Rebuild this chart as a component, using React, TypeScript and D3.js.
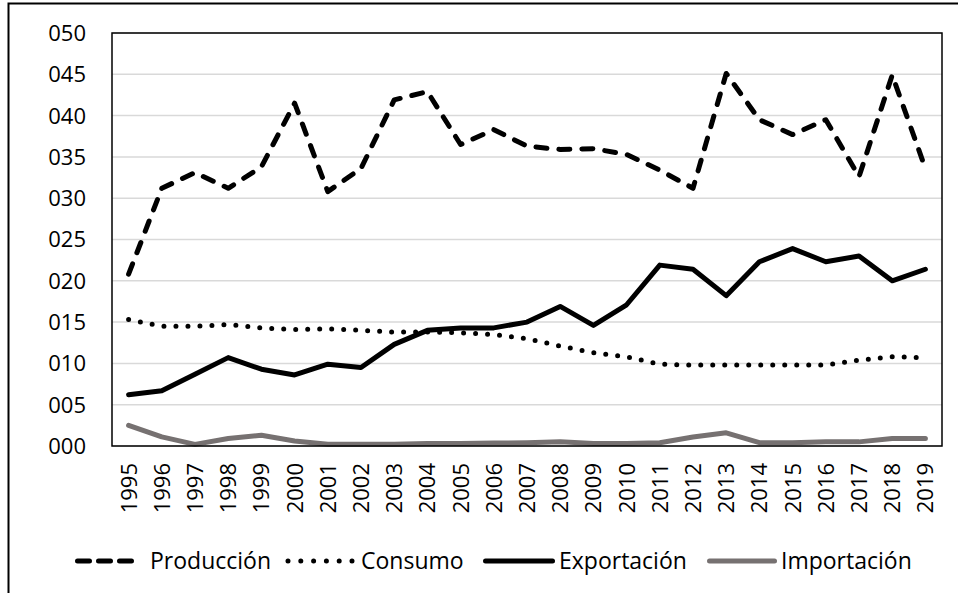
import * as d3 from 'd3';
import { type FC, useEffect, useRef } from 'react';

const years = [
  '1995', '1996', '1997', '1998', '1999', '2000', '2001', '2002', '2003',
  '2004', '2005', '2006', '2007', '2008', '2009', '2010', '2011', '2012',
  '2013', '2014', '2015', '2016', '2017', '2018', '2019',
];

const produccion = [
  20.8, 31.2, 33.1, 31.2, 33.8, 41.5, 30.8, 33.6, 41.9, 42.9, 36.5, 38.3,
  36.3, 35.9, 36.0, 35.3, 33.4, 31.2, 45.1, 39.5, 37.7, 39.5, 32.6, 44.9,
  33.6,
];

const consumo = [
  15.3, 14.5, 14.5, 14.7, 14.3, 14.1, 14.2, 14.0, 13.8, 13.8, 13.7, 13.5,
  13.0, 12.1, 11.3, 10.8, 9.9, 9.8, 9.8, 9.8, 9.8, 9.8, 10.4, 10.8, 10.7,
];

const exportacion = [
  6.2, 6.7, 8.7, 10.7, 9.3, 8.6, 9.9, 9.5, 12.3, 14.0, 14.3, 14.3, 15.0,
  16.9, 14.6, 17.1, 21.9, 21.4, 18.2, 22.3, 23.9, 22.3, 23.0, 20.0, 21.4,
];

const importacion = [
  2.5, 1.1, 0.2, 0.9, 1.3, 0.6, 0.2, 0.2, 0.2, 0.3, 0.3, 0.35, 0.4, 0.5,
  0.3, 0.3, 0.4, 1.1, 1.6, 0.4, 0.4, 0.5, 0.5, 0.9, 0.9,
];

const yTicks = [0, 5, 10, 15, 20, 25, 30, 35, 40, 45, 50];

interface Serie {
  name: string;
  values: number[];
  color: string;
  dash: string | null;
  legendDash: string | null;
  width: number;
}

const series: Serie[] = [
  { name: 'Producción', values: produccion, color: '#000000', dash: '11 12', legendDash: '12 9', width: 5 },
  { name: 'Consumo', values: consumo, color: '#000000', dash: '0 12', legendDash: '0 12.8', width: 5 },
  { name: 'Exportación', values: exportacion, color: '#000000', dash: null, legendDash: null, width: 5 },
  { name: 'Importación', values: importacion, color: '#767171', dash: null, legendDash: null, width: 5 },
];

// legend slots: symbol start/end and text x
const legendSlots = [
  { x0: 77.5, x1: 136, tx: 150 },
  { x0: 288, x1: 352.5, tx: 361 },
  { x0: 485.5, x1: 552.5, tx: 559 },
  { x0: 709.5, x1: 774.5, tx: 781 },
];

const FONT = "'Open Sans', sans-serif";

const App: FC = () => {
  const svgRef = useRef<SVGSVGElement>(null);

  useEffect(() => {
    if (!svgRef.current) return;
    const svg = d3.select(svgRef.current);
    svg.selectAll('*').remove();

    const W = 958;
    const H = 593;
    const margin = { top: 33, right: 16, bottom: 147, left: 112 };
    const width = W - margin.left - margin.right;
    const height = H - margin.top - margin.bottom;

    svg.append('rect').attr('width', W).attr('height', H).attr('fill', '#fff');

    // outer frame (cropped)
    svg
      .append('path')
      .attr('d', `M8.5,${H} V3.5 H${W}`)
      .attr('fill', 'none')
      .attr('stroke', '#000')
      .attr('stroke-width', 2);

    const g = svg
      .append('g')
      .attr('transform', `translate(${margin.left},${margin.top})`);

    const xScale = d3.scaleBand().domain(years).range([0, width]);
    const yScale = d3.scaleLinear().domain([0, 50]).range([height, 0]);

    // gridlines
    g.selectAll('.grid')
      .data(yTicks)
      .join('line')
      .attr('class', 'grid')
      .attr('x1', 0)
      .attr('x2', width)
      .attr('y1', (d) => yScale(d))
      .attr('y2', (d) => yScale(d))
      .attr('stroke', '#d9d9d9')
      .attr('stroke-width', 1.5);

    // Y labels
    g.selectAll('.ylab')
      .data(yTicks)
      .join('text')
      .attr('class', 'ylab')
      .attr('x', -26)
      .attr('y', (d) => yScale(d))
      .attr('dy', '0.36em')
      .attr('text-anchor', 'end')
      .attr('font-family', FONT)
      .attr('font-size', '22px')
      .attr('fill', '#000')
      .text((d) => d3.format('03d')(d));

    // X labels (rotated)
    g.selectAll('.xlab')
      .data(years)
      .join('text')
      .attr('class', 'xlab')
      .attr('transform', (d) => {
        const x = (xScale(d) || 0) + xScale.bandwidth() / 2;
        return `translate(${x},${height + 17}) rotate(-90)`;
      })
      .attr('dy', '0.36em')
      .attr('text-anchor', 'end')
      .attr('font-family', FONT)
      .attr('font-size', '22px')
      .attr('fill', '#000')
      .text((d) => d);

    const line = d3
      .line<number>()
      .x((_, i) => (xScale(years[i]) || 0) + xScale.bandwidth() / 2)
      .y((d) => yScale(d));

    // Lines
    series.forEach((s) => {
      g.append('path')
        .datum(s.values)
        .attr('d', line)
        .attr('fill', 'none')
        .attr('stroke', s.color)
        .attr('stroke-width', s.width)
        .attr('stroke-linecap', 'round')
        .attr('stroke-linejoin', 'round')
        .attr('stroke-dasharray', s.dash);
    });

    // plot frame
    g.append('rect')
      .attr('x', 0)
      .attr('y', 0)
      .attr('width', width)
      .attr('height', height)
      .attr('fill', 'none')
      .attr('stroke', '#000')
      .attr('stroke-width', 1.5);

    // Legend
    const ly = 561;
    const leg = svg.append('g');
    series.forEach((s, i) => {
      const slot = legendSlots[i];
      leg
        .append('line')
        .attr('x1', slot.x0)
        .attr('x2', slot.x1)
        .attr('y1', ly)
        .attr('y2', ly)
        .attr('stroke', s.color)
        .attr('stroke-width', s.width)
        .attr('stroke-linecap', 'round')
        .attr('stroke-dasharray', s.legendDash);
      leg
        .append('text')
        .attr('x', slot.tx)
        .attr('y', ly)
        .attr('dy', '0.36em')
        .attr('font-family', FONT)
        .attr('font-size', '23px')
        .attr('fill', '#000')
        .text(s.name);
    });
  }, []);

  return (
    <svg
      ref={svgRef}
      width={958}
      height={593}
      style={{ position: 'absolute', left: 0, top: 0, display: 'block' }}
    />
  );
};

export default App;
